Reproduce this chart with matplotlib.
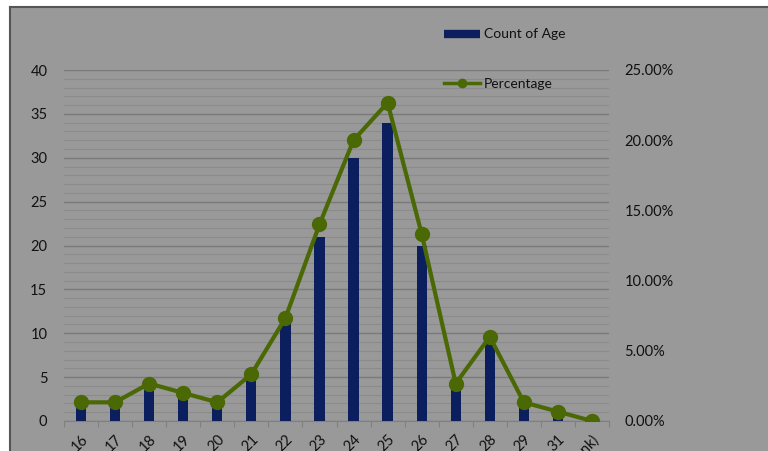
import numpy as np
import matplotlib.pyplot as plt
from matplotlib.patches import Rectangle
from matplotlib.lines import Line2D
from matplotlib.ticker import MultipleLocator, FuncFormatter, FixedLocator

ages = ['16', '17', '18', '19', '20', '21', '22', '23', '24', '25',
        '26', '27', '28', '29', '31', '(blank)']
counts = [2, 2, 4, 3, 2, 5, 11, 21, 30, 34, 20, 4, 9, 2, 1, 0]
percentage = [0.0133, 0.0133, 0.0267, 0.0200, 0.0133, 0.0333, 0.0733, 0.1400,
              0.2000, 0.2267, 0.1333, 0.0267, 0.0600, 0.0133, 0.0067, 0.0]

BG = '#999999'
NAVY = '#0b1f5e'
GREEN = '#4a6804'
TEXT = '#111111'

plt.rcParams['font.family'] = ['Lato', 'DejaVu Sans']

fig = plt.figure(figsize=(7.68, 4.51), dpi=100)
fig.patch.set_facecolor(BG)

# white margin on top and left, with a dark edge along the panel
W, H = 768, 451
fig.patches.append(Rectangle((0, (H - 7) / H), 1, 7 / H, transform=fig.transFigure,
                             facecolor='white', edgecolor='none'))
fig.patches.append(Rectangle((0, 0), 10 / W, 1, transform=fig.transFigure,
                             facecolor='white', edgecolor='none'))
fig.lines.append(Line2D([10 / W, 1], [(H - 7) / H] * 2, transform=fig.transFigure,
                        color='#555555', lw=1.5))
fig.lines.append(Line2D([10 / W] * 2, [0, (H - 7) / H], transform=fig.transFigure,
                        color='#555555', lw=1.5))

ax = fig.add_axes([64 / W, 30 / H, 545 / W, 351 / H])
ax.set_facecolor('none')
x = np.arange(len(ages))

ax.bar(x, counts, width=0.3, color=NAVY, zorder=3)
ax.set_xlim(-0.5, len(ages) - 0.5)
ax.set_ylim(0, 40)

# gridlines: every 5 darker, every 1 lighter
ax.yaxis.set_major_locator(MultipleLocator(5))
ax.yaxis.set_minor_locator(MultipleLocator(1))
ax.grid(axis='y', which='major', color='#7a7a7a', lw=1.0, zorder=1)
ax.grid(axis='y', which='minor', color='#8b8b8b', lw=0.8, zorder=1)
ax.tick_params(axis='y', which='both', length=0, pad=12, labelsize=10.5,
               labelcolor=TEXT)

# category ticks at boundaries, labels at centres
ax.xaxis.set_major_locator(FixedLocator(np.arange(-0.5, len(ages), 1.0)))
ax.xaxis.set_major_formatter(FuncFormatter(lambda v, p: ''))
ax.xaxis.set_minor_locator(FixedLocator(x))
ax.set_xticklabels(ages, minor=True)
ax.tick_params(axis='x', which='major', length=4, color='#808080', direction='out')
ax.tick_params(axis='x', which='minor', length=0, pad=8, labelsize=10.5,
               labelcolor=TEXT)
for lbl in ax.get_xticklabels(minor=True):
    lbl.set_rotation(45)
    lbl.set_ha('right')
    lbl.set_va('top')
    lbl.set_rotation_mode('anchor')

for s in ['top', 'left', 'right']:
    ax.spines[s].set_visible(False)
ax.spines['bottom'].set_color('#808080')
ax.spines['bottom'].set_zorder(2)

ax2 = ax.twinx()
ax2.plot(x, percentage, color=GREEN, lw=3, marker='o', markersize=10, zorder=4)
ax2.set_ylim(0, 0.25)
ax2.yaxis.set_major_locator(MultipleLocator(0.05))
ax2.yaxis.set_major_formatter(FuncFormatter(lambda v, p: f'{v * 100:.2f}%'))
ax2.tick_params(axis='y', length=0, pad=11, labelsize=10.5, labelcolor=TEXT)
for s in ax2.spines.values():
    s.set_visible(False)

handles = [
    Line2D([], [], color=NAVY, lw=6, solid_capstyle='butt'),
    Line2D([], [], color=GREEN, lw=2.5, marker='o', markersize=6),
]
fig.legend(handles, ['Count of Age', 'Percentage'], loc='upper left',
           bbox_to_anchor=(431 / W, 1 - 16 / H), frameon=False, fontsize=10,
           labelspacing=2.7, handlelength=2.6, handletextpad=0.3,
           labelcolor=TEXT)

fig.savefig('out.png', dpi=100, facecolor=fig.get_facecolor())
